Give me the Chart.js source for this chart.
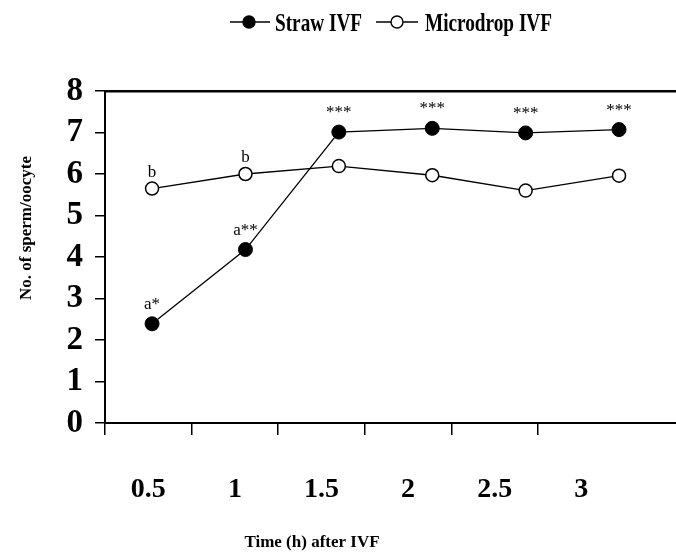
<!DOCTYPE html>
<html><head><meta charset="utf-8">
<script src="https://cdn.jsdelivr.net/npm/chart.js@4/dist/chart.umd.min.js"></script>
<style>html,body{margin:0;padding:0;background:#fff;overflow:hidden;}#wrap{width:676px;height:552px;}canvas{display:block;}</style>
</head><body><div id="wrap"><canvas id="c" width="676" height="552"></canvas></div>
<script>
const times = [0.5, 1, 1.5, 2, 2.5, 3];
const tickLabels = ['0.5', '1', '1.5', '2', '2.5', '3'];
const strawIVF = [2.39, 4.18, 7.01, 7.10, 6.99, 7.07];
const microdropIVF = [5.65, 6.00, 6.19, 5.97, 5.60, 5.96];
const strawMarks = ['a*', 'a**', '***', '***', '***', '***'];
const microMarks = ['b', 'b', '', '', '', ''];
const seriesNames = ['Straw IVF', 'Microdrop IVF'];
const yTitle = 'No. of sperm/oocyte';
const xTitle = 'Time (h) after IVF';

const SERIF = "'Liberation Serif','Times New Roman',serif";

const textPlugin = {
  id: 'textPlugin',
  afterDraw(chart) {
    const ctx = chart.ctx;
    ctx.save();
    ctx.fillStyle = '#000';
    ctx.strokeStyle = '#000';
    // point annotations
    ctx.font = '17px ' + SERIF;
    ctx.textAlign = 'center';
    ctx.textBaseline = 'alphabetic';
    const m0 = chart.getDatasetMeta(0).data;
    const m1 = chart.getDatasetMeta(1).data;
    strawMarks.forEach((t, i) => { if (t) ctx.fillText(t, m0[i].x, m0[i].y - 15); });
    microMarks.forEach((t, i) => { if (t) ctx.fillText(t, m1[i].x, m1[i].y - 12); });

    // legend
    const drawItem = (x0, x1, cx, filled, label, tx) => {
      ctx.lineWidth = 1.3;
      ctx.beginPath(); ctx.moveTo(x0, 22); ctx.lineTo(x1, 22); ctx.stroke();
      ctx.beginPath(); ctx.arc(cx, 22, 6, 0, Math.PI * 2);
      ctx.fillStyle = filled ? '#000' : '#fff'; ctx.fill();
      ctx.lineWidth = 1.4; ctx.stroke();
      ctx.fillStyle = '#000';
      ctx.save();
      ctx.translate(tx, 31);
      ctx.scale(0.74, 1);
      ctx.font = 'bold 26px ' + SERIF;
      ctx.textAlign = 'left';
      ctx.fillText(label, 0, 0);
      ctx.restore();
    };
    drawItem(230, 270, 249, true, chart.data.datasets[0].label, 275);
    drawItem(376, 418, 397, false, chart.data.datasets[1].label, 425);

    // axis titles
    ctx.font = 'bold 17px ' + SERIF;
    ctx.textAlign = 'center';
    ctx.fillText(xTitle, 312, 547);
    ctx.save();
    ctx.translate(31, 228);
    ctx.rotate(-Math.PI / 2);
    ctx.fillText(yTitle, 0, 0);
    ctx.restore();
    ctx.restore();
  }
};

new Chart(document.getElementById('c'), {
  type: 'line',
  data: {
    datasets: [
      {
        label: seriesNames[0],
        data: times.map((t, i) => ({ x: t, y: strawIVF[i] })),
        xAxisID: 'x', yAxisID: 'y',
        borderColor: '#000', borderWidth: 1.3,
        pointRadius: 7, pointBackgroundColor: '#000', pointBorderColor: '#000', pointBorderWidth: 1,
        tension: 0, fill: false
      },
      {
        label: seriesNames[1],
        data: times.map((t, i) => ({ x: t, y: microdropIVF[i] })),
        xAxisID: 'x', yAxisID: 'y',
        borderColor: '#000', borderWidth: 1.3,
        pointRadius: 6.5, pointBackgroundColor: '#fff', pointBorderColor: '#000', pointBorderWidth: 1.5,
        tension: 0, fill: false
      }
    ]
  },
  options: {
    responsive: false,
    devicePixelRatio: 1,
    animation: false,
    layout: { autoPadding: false, padding: { top: 91, left: 0, right: 0, bottom: 0 } },
    plugins: { legend: { display: false }, tooltip: { enabled: false } },
    scales: {
      x: { type: 'linear', display: false, min: 0.248, max: 3.305 },
      xt: {
        type: 'linear', position: 'bottom', min: 0.25, max: 3.547,
        afterBuildTicks: s => { s.ticks = times.map(v => ({ value: v })); },
        afterFit: s => { s.height = 129; s.paddingLeft = 0; s.paddingRight = 0; },
        ticks: {
          autoSkip: false, maxRotation: 0, padding: 38, color: '#000',
          font: { family: SERIF, size: 28, weight: 'bold' },
          callback: (v, i) => tickLabels[i]
        },
        grid: {
          offset: true, drawOnChartArea: false, tickLength: 12, lineWidth: 1.5,
          color: c => (c.index !== undefined && c.index < times.length) ? '#000' : 'rgba(0,0,0,0)'
        },
        border: { display: true, color: '#000', width: 2 }
      },
      xtop: {
        type: 'linear', position: 'top', min: 0, max: 1,
        ticks: { display: false },
        grid: { drawOnChartArea: false, drawTicks: false, color: 'rgba(0,0,0,0)' },
        border: { display: true, color: '#000', width: 2.5 },
        afterFit: s => { s.height = 0; s.paddingLeft = 0; s.paddingRight = 0; }
      },
      y: {
        min: 0, max: 8,
        afterFit: s => { s.width = 105; },
        ticks: { stepSize: 1, autoSkip: false, padding: 12, color: '#000', font: { family: SERIF, size: 33, weight: 'bold' } },
        grid: { drawOnChartArea: false, tickLength: 10, color: '#000', lineWidth: 1.5 },
        border: { display: true, color: '#000', width: 2 }
      }
    }
  },
  plugins: [textPlugin]
});
</script>
</body></html>
